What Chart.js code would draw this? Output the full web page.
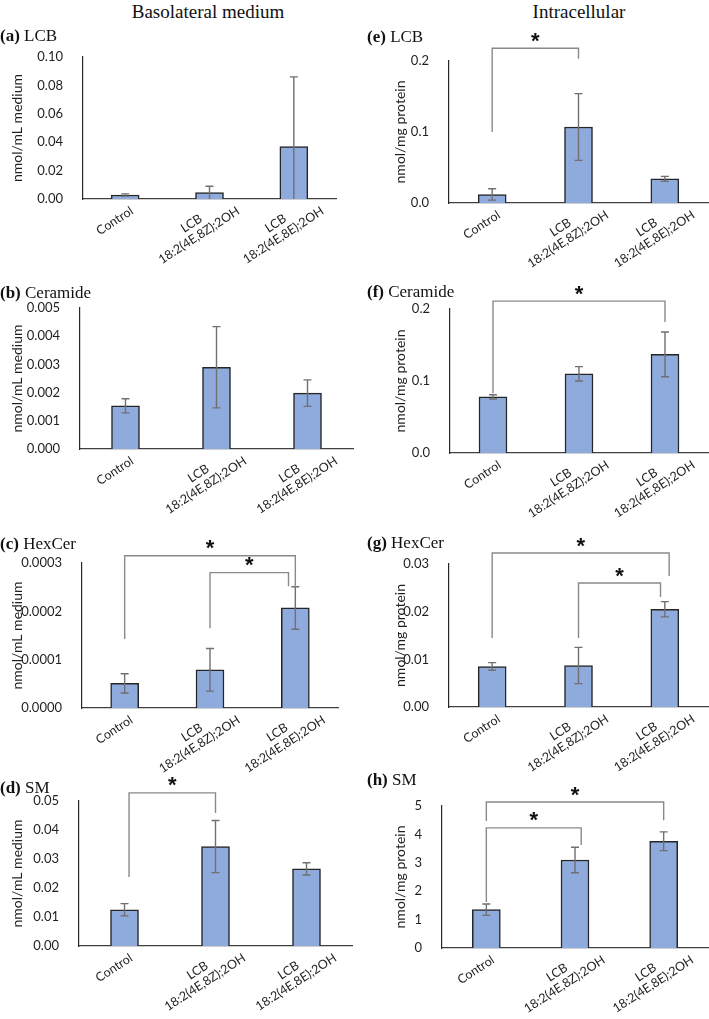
<!DOCTYPE html>
<html>
<head>
<meta charset="utf-8">
<script src="https://cdn.jsdelivr.net/npm/chart.js@4.4.1/dist/chart.umd.min.js"></script>
<style>
  body { margin: 0; width: 709px; height: 1019px; position: relative; overflow: hidden; background: #fff; }
  canvas { position: absolute; }
  .col { position: absolute; top: 2px; font: 19px "Liberation Serif"; line-height: 1; transform: translateX(-50%); white-space: nowrap; color: #111; }
  .ttl { position: absolute; font: 17px "Liberation Serif"; line-height: 1; white-space: nowrap; color: #111; }
  .ttl b { font-weight: bold; }
</style>
</head>
<body>
<div class="col" style="left:208px">Basolateral medium</div>
<div class="col" style="left:579px">Intracellular</div>
<script>
const groups = ['Control', ['LCB', '18:2(4E,8Z);2OH'], ['LCB', '18:2(4E,8E);2OH']];

// basolateral medium (nmol/mL medium): mean and SD
const lcbMedium = [0.0028, 0.0045, 0.037];
const lcbMediumSd = [0.0008, 0.0045, 0.049];
const cerMedium = [0.00153, 0.0029, 0.00198];
const cerMediumSd = [0.00025, 0.00144, 0.00047];
const hexMedium = [0.000051, 0.000079, 0.000207];
const hexMediumSd = [0.00002, 0.000044, 0.000044];
const smMedium = [0.0125, 0.0343, 0.0266];
const smMediumSd = [0.0021, 0.009, 0.0021];

// intracellular (nmol/mg protein)
const lcbCell = [0.012, 0.107, 0.034];
const lcbCellSd = [0.008, 0.047, 0.0035];
const cerCell = [0.078, 0.110, 0.137];
const cerCellSd = [0.003, 0.010, 0.031];
const hexCell = [0.0085, 0.0087, 0.0205];
const hexCellSd = [0.0008, 0.0038, 0.0016];
const smCell = [1.35, 3.1, 3.76];
const smCellSd = [0.2, 0.45, 0.33];

// y axis: max, step, decimals
const lcbMediumAxis = [0.10, 0.02, 2];
const cerMediumAxis = [0.005, 0.001, 3];
const hexMediumAxis = [0.0003, 0.0001, 4];
const smMediumAxis = [0.05, 0.01, 2];
const lcbCellAxis = [0.2, 0.1, 1];
const cerCellAxis = [0.2, 0.1, 1];
const hexCellAxis = [0.03, 0.01, 2];
const smCellAxis = [5, 1, 0];

// significance brackets: from group, to group, left end, top, right end
const hexMediumSig = [[0, 2, 0.000143, 0.000315, 0.00025], [1, 1.92, 0.000165, 0.00028, 0.000252]];
const smMediumSig = [[0.05, 1, 0.0238, 0.0528, 0.0459]];
const lcbCellSig = [[0, 1, 0.1, 0.218, 0.203]];
const cerCellSig = [[0, 2, 0.083, 0.211, 0.182]];
const hexCellSig = [[0, 2.05, 0.0145, 0.0323, 0.0275], [1, 1.95, 0.0145, 0.026, 0.0231]];
const smCellSig = [[0, 2, 4.47, 5.14, 4.5], [0, 1.07, 1.62, 4.23, 3.63]];

const panels = [
  {tag: '(a)', name: 'LCB', unit: 'nmol/mL medium', v: lcbMedium, sd: lcbMediumSd, ax: lcbMediumAxis, sig: [], geo: [83, 57, 199, 336, 41]},
  {tag: '(b)', name: 'Ceramide', unit: 'nmol/mL medium', v: cerMedium, sd: cerMediumSd, ax: cerMediumAxis, sig: [], geo: [80, 308, 449, 353, 298]},
  {tag: '(c)', name: 'HexCer', unit: 'nmol/mL medium', v: hexMedium, sd: hexMediumSd, ax: hexMediumAxis, sig: hexMediumSig, geo: [82, 563, 708, 338, 549]},
  {tag: '(d)', name: 'SM', unit: 'nmol/mL medium', v: smMedium, sd: smMediumSd, ax: smMediumAxis, sig: smMediumSig, geo: [79, 801, 946, 352, 793]},
  {tag: '(e)', name: 'LCB', unit: 'nmol/mg protein', v: lcbCell, sd: lcbCellSd, ax: lcbCellAxis, sig: lcbCellSig, geo: [449, 61, 203, 708, 42]},
  {tag: '(f)', name: 'Ceramide', unit: 'nmol/mg protein', v: cerCell, sd: cerCellSd, ax: cerCellAxis, sig: cerCellSig, geo: [450, 309, 453, 708, 297]},
  {tag: '(g)', name: 'HexCer', unit: 'nmol/mg protein', v: hexCell, sd: hexCellSd, ax: hexCellAxis, sig: hexCellSig, geo: [449, 564, 707, 708, 548]},
  {tag: '(h)', name: 'SM', unit: 'nmol/mg protein', v: smCell, sd: smCellSd, ax: smCellAxis, sig: smCellSig, geo: [442, 806, 948, 708, 785]},
];

Chart.defaults.font.family = 'Lato';
Chart.defaults.color = '#1f1f1f';

const ANG = 33 * Math.PI / 180;

// error bars, x labels and significance brackets
const extras = {
  id: 'extras',
  afterDatasetsDraw(chart, args, opts) {
    const {ctx, chartArea} = chart;
    const x = chart.scales.x, y = chart.scales.y;
    const vals = chart.data.datasets[0].data;
    ctx.save();

    ctx.strokeStyle = '#707070';
    ctx.lineWidth = 1.4;
    opts.sd.forEach(function(e, i) {
      const px = x.getPixelForValue(i);
      const top = y.getPixelForValue(vals[i] + e);
      const bot = Math.min(y.getPixelForValue(vals[i] - e), chartArea.bottom);
      ctx.beginPath();
      ctx.moveTo(px, top); ctx.lineTo(px, bot);
      ctx.moveTo(px - 4, top); ctx.lineTo(px + 4, top);
      if (bot < chartArea.bottom - 1) { ctx.moveTo(px - 4, bot); ctx.lineTo(px + 4, bot); }
      ctx.stroke();
    });

    // category labels, rotated, lines centred; placed by their rotated bounding box
    ctx.fillStyle = '#1f1f1f';
    ctx.font = '12.5px Lato';
    ctx.textAlign = 'right';
    ctx.textBaseline = 'top';
    const lh = 14, c = Math.cos(ANG), s = Math.sin(ANG);
    chart.data.labels.forEach(function(lbl, i) {
      const lines = Array.isArray(lbl) ? lbl : [lbl];
      const ws = lines.map(function(t) { return ctx.measureText(t).width; });
      const W = Math.max.apply(null, ws);
      let minX = Infinity, maxX = -Infinity, minY = Infinity;
      lines.forEach(function(t, k) {
        const x0 = -(W + ws[k]) / 2, x1 = -(W - ws[k]) / 2;
        const y0 = k * lh + 3, y1 = k * lh + lh - 3;
        [[x0, y0], [x1, y0], [x0, y1], [x1, y1]].forEach(function(q) {
          const rx = q[0] * c + q[1] * s, ry = -q[0] * s + q[1] * c;
          minX = Math.min(minX, rx); maxX = Math.max(maxX, rx); minY = Math.min(minY, ry);
        });
      });
      const px = x.getPixelForValue(i);
      ctx.save();
      ctx.translate(px - 10 - (minX + maxX) / 2, chartArea.bottom + 8 - minY);
      ctx.rotate(-ANG);
      lines.forEach(function(t, k) { ctx.fillText(t, -(W - ws[k]) / 2, k * lh); });
      ctx.restore();
    });

    // brackets with stars
    ctx.strokeStyle = '#8a8a8a';
    ctx.lineWidth = 1.4;
    ctx.fillStyle = '#111';
    ctx.font = 'bold 22px "Liberation Sans"';
    ctx.textAlign = 'center';
    ctx.textBaseline = 'alphabetic';
    opts.sig.forEach(function(b) {
      const x0 = x.getPixelForValue(b[0]), x1 = x.getPixelForValue(b[1]);
      const yt = y.getPixelForValue(b[3]);
      ctx.beginPath();
      ctx.moveTo(x0, y.getPixelForValue(b[2]));
      ctx.lineTo(x0, yt);
      ctx.lineTo(x1, yt);
      ctx.lineTo(x1, y.getPixelForValue(b[4]));
      ctx.stroke();
      const m = ctx.measureText('*');
      const mid = (m.actualBoundingBoxAscent - m.actualBoundingBoxDescent) / 2;
      ctx.fillText('*', (x0 + x1) / 2, yt - 11 + mid);
    });
    ctx.restore();
  }
};

panels.forEach(function(p, n) {
  const right = n >= 4;
  const [axisX, topY, zeroY, axisR, titleBase] = p.geo;
  const left = right ? 355 : 0;
  const width = right ? 354 : 360;
  const padL = right ? 33 : 5;
  const cv = document.createElement('canvas');
  cv.width = width;
  cv.height = zeroY - topY + 130;
  cv.style.left = left + 'px';
  cv.style.top = (topY - 50) + 'px';
  document.body.appendChild(cv);

  const t = document.createElement('div');
  t.className = 'ttl';
  t.innerHTML = '<b>' + p.tag + '</b> ' + p.name;
  t.style.left = (right ? 367 : 0) + 'px';
  t.style.top = (titleBase - 14) + 'px';
  document.body.appendChild(t);

  new Chart(cv, {
    type: 'bar',
    data: {
      labels: groups,
      datasets: [{
        data: p.v,
        backgroundColor: '#8faadc',
        borderColor: '#262626',
        borderWidth: 1.5,
        barThickness: 28,
      }]
    },
    options: {
      responsive: false,
      animation: false,
      events: [],
      layout: {padding: {top: 50, left: padL, right: left + width - axisR, bottom: 0}},
      plugins: {
        legend: {display: false},
        tooltip: {enabled: false},
        extras: {sd: p.sd, sig: p.sig},
      },
      scales: {
        x: {
          grid: {display: false},
          border: {display: true, color: '#404040', width: 1.2},
          ticks: {display: false},
          afterFit: function(s) { s.height = 80; },
        },
        y: {
          min: 0,
          max: p.ax[0],
          grid: {display: false},
          border: {display: true, color: '#262626', width: 1.2},
          ticks: {
            stepSize: p.ax[1],
            padding: 12,
            font: {size: 13},
            color: '#1f1f1f',
            callback: function(v) { return Number(v).toFixed(p.ax[2]); },
          },
          title: {display: true, text: p.unit, font: {size: 14}, color: '#1f1f1f'},
          afterFit: function(s) { s.width = axisX - left - padL; },
        }
      }
    },
    plugins: [extras]
  });
});
</script>
</body>
</html>
